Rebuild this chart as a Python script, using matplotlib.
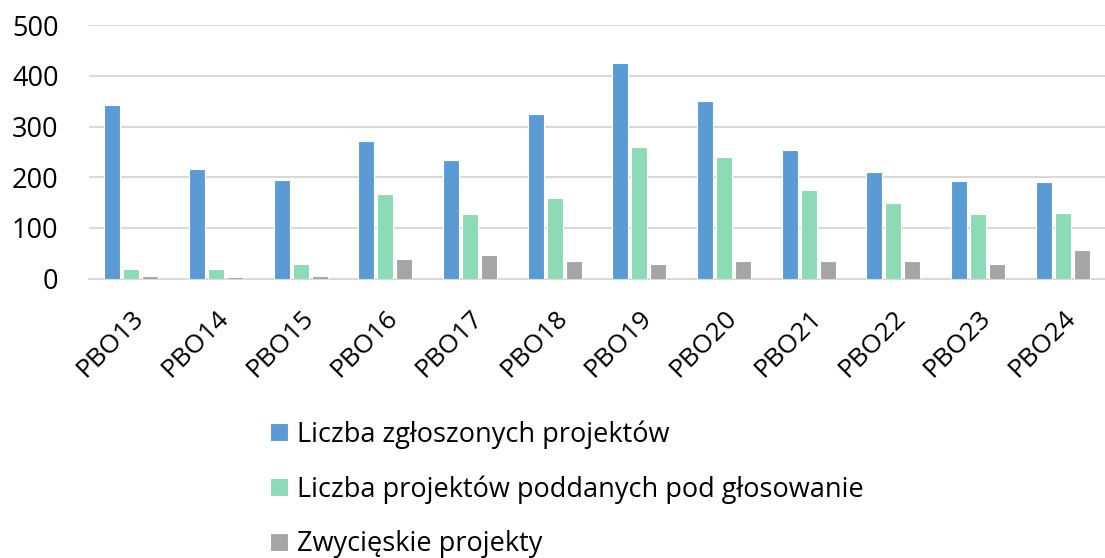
import matplotlib
matplotlib.use("Agg")
import matplotlib.pyplot as plt
import numpy as np

plt.rcParams['font.family'] = ['Open Sans', 'DejaVu Sans']

categories = ["PBO13", "PBO14", "PBO15", "PBO16", "PBO17", "PBO18",
              "PBO19", "PBO20", "PBO21", "PBO22", "PBO23", "PBO24"]
submitted = [343, 217, 195, 272, 234, 325, 426, 351, 253, 210, 192, 190]
voted = [19, 19, 29, 168, 127, 160, 260, 239, 175, 150, 127, 130]
winners = [5, 3, 5, 38, 46, 34, 29, 34, 34, 34, 30, 57]
series_names = ["Liczba zgłoszonych projektów",
                "Liczba projektów poddanych pod głosowanie",
                "Zwycięskie projekty"]
colors = ["#5B9BD5", "#8DDAB7", "#A5A5A5"]
yticks = [0, 100, 200, 300, 400, 500]

fig = plt.figure(figsize=(11.05, 5.58), dpi=100)
ax = fig.add_axes([0.0805, 0.5005, 0.9195, 0.4545])

x = np.arange(len(categories))
step = 0.224
w = 0.19
handles = []
for i, (vals, name, c) in enumerate(zip([submitted, voted, winners], series_names, colors)):
    b = ax.bar(x + (i - 1) * step, vals, width=w, color=c, edgecolor="white",
               linewidth=0.8, label=name, zorder=3)
    handles.append(b)

ax.set_xlim(-0.5, len(categories) - 0.5)
ax.set_ylim(0, 500)
ax.set_yticks(yticks)
ax.set_yticklabels([str(v) for v in yticks], fontsize=19.5)
ax.yaxis.grid(True, color="#D9D9D9", linewidth=1.5, zorder=0)
ax.set_axisbelow(True)
for s in ["top", "right", "left"]:
    ax.spines[s].set_visible(False)
ax.spines["bottom"].set_color("#D9D9D9")
ax.spines["bottom"].set_linewidth(1.5)
ax.tick_params(axis="y", length=0, pad=22)
ax.tick_params(axis="x", length=0, pad=19)
ax.set_xticks(x)
ax.set_xticklabels(categories, fontsize=19, rotation=45, ha="right",
                   rotation_mode="anchor")

fig.legend(handles=handles, labels=series_names, loc="upper left",
           bbox_to_anchor=(0.2443, 0.247), frameon=False, fontsize=19.5,
           handlelength=0.66, handleheight=0.66, handletextpad=0.33,
           labelspacing=0.98, borderaxespad=0, borderpad=0)

fig.savefig("out.png", dpi=100)
